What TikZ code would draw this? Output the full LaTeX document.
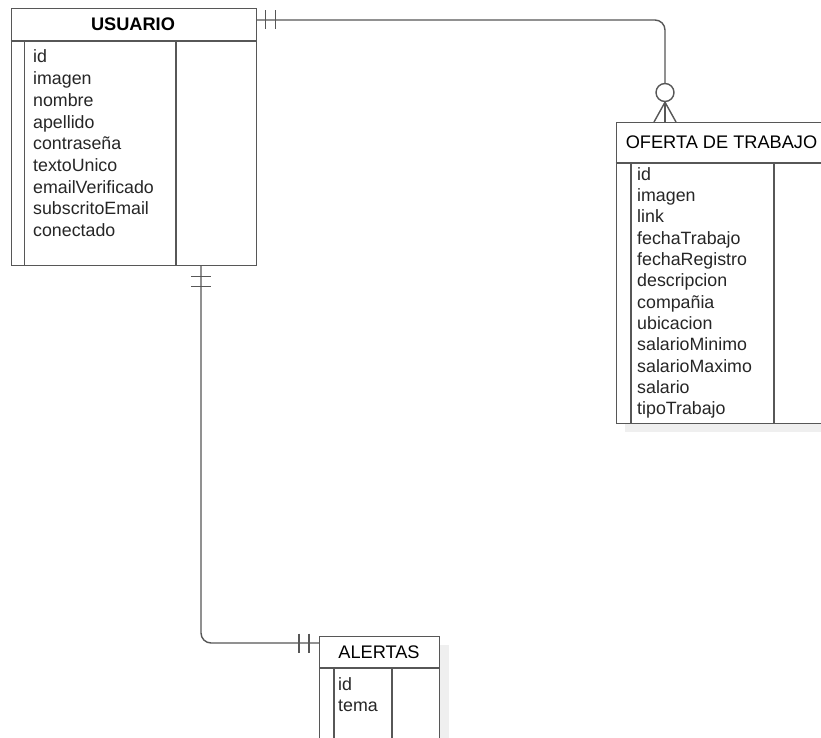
\documentclass[tikz,border=0pt]{standalone}
\usepackage{fontspec}
\setmainfont{Liberation Sans}
\definecolor{edge}{HTML}{575757}
\definecolor{ink}{HTML}{262626}
\definecolor{shadowgray}{HTML}{EFEFEF}
\begin{document}
\begin{tikzpicture}[x=1pt,y=-1pt,
  frame/.style={draw=edge, line width=1.4pt, fill=white, inner sep=0pt, anchor=north west},
  rel/.style={draw=edge, line width=1.4pt},
  field/.style={anchor=base west, inner sep=0pt, text=ink, font=\fontsize{17.8}{21}\selectfont},
  title/.style={inner sep=0pt, text=black, font=\fontsize{18.2}{21}\selectfont},
  optional/.style={circle, draw=edge, line width=1.4pt, fill=white, minimum size=18pt, inner sep=0pt},
]
\useasboundingbox[fill=white] (0,0) rectangle (821,738);

% drop shadows
\fill[shadowgray] (625,132) rectangle (840,432);
\fill[shadowgray] (329,645) rectangle (449,760);

% USUARIO
\node[frame, minimum width=245pt, minimum height=256.5pt] (usuario) at (10.5,8) {};
\draw[rel] (10.5,41) -- (255.5,41);
\draw[rel] (24.5,41) -- (24.5,264.5);
\draw[rel] (176,41) -- (176,264.5);
\node[title] (usuario-title) at (133,24.5) {\bfseries USUARIO};
\foreach \f [count=\i from 0] in {id,imagen,nombre,apellido,contraseña,textoUnico,emailVerificado,subscritoEmail,conectado}
  \node[field] (usuario-f\i) at ({33},{63+21.7*\i}) {\f};

% OFERTA DE TRABAJO
\node[frame, minimum width=214.5pt, minimum height=300.5pt] (oferta) at (615.5,122) {};
\draw[rel] (615.5,163) -- (830,163);
\draw[rel] (631,163) -- (631,422.5);
\draw[rel] (774,163) -- (774,422.5);
\node[title] (oferta-title) at (721.5,142.5) {OFERTA DE TRABAJO};
\foreach \f [count=\i from 0] in {id,imagen,link,fechaTrabajo,fechaRegistro,descripcion,compañia,ubicacion,salarioMinimo,salarioMaximo,salario,tipoTrabajo}
  \node[field] (oferta-f\i) at ({637},{180+21.35*\i}) {\f};

% ALERTAS
\node[frame, minimum width=120pt, minimum height=114pt] (alertas) at (319,636) {};
\draw[rel] (319,668) -- (439,668);
\draw[rel] (334,668) -- (334,750);
\draw[rel] (392,668) -- (392,750);
\node[title] (alertas-title) at (379,652) {ALERTAS};
\foreach \f [count=\i from 0] in {id,tema}
  \node[field] (alertas-f\i) at ({338},{690.5+21*\i}) {\f};

% USUARIO -- OFERTA DE TRABAJO (one to zero-or-many)
\coordinate (u-e) at ([yshift=-12pt]usuario.north east);
\node[optional] (opt) at (665,92.5) {};
\draw[rel, rounded corners=10pt] (u-e) -| (opt.north);
\draw[rel] ([shift={(8.5,-9.5)}]u-e) -- ([shift={(8.5,9.5)}]u-e);
\draw[rel] ([shift={(18.5,-9.5)}]u-e) -- ([shift={(18.5,9.5)}]u-e);
\coordinate (foot) at (opt |- oferta.north);
\draw[rel] ([xshift=-11pt]foot) -- (opt.south) -- ([xshift=11pt]foot);
\draw[rel] (opt.south) -- (foot);

% USUARIO -- ALERTAS (one to one)
\coordinate (u-s) at ([xshift=190.5pt]usuario.south west);
\coordinate (a-w) at ([yshift=-7pt]alertas.north west);
\draw[rel, rounded corners=10pt] (u-s) |- (a-w);
\draw[rel] ([shift={(-10,10.5)}]u-s) -- ([shift={(10,10.5)}]u-s);
\draw[rel] ([shift={(-10,20.5)}]u-s) -- ([shift={(10,20.5)}]u-s);
\draw[rel] ([shift={(-20,-9.5)}]a-w) -- ([shift={(-20,9.5)}]a-w);
\draw[rel] ([shift={(-10,-9.5)}]a-w) -- ([shift={(-10,9.5)}]a-w);
\end{tikzpicture}
\end{document}
